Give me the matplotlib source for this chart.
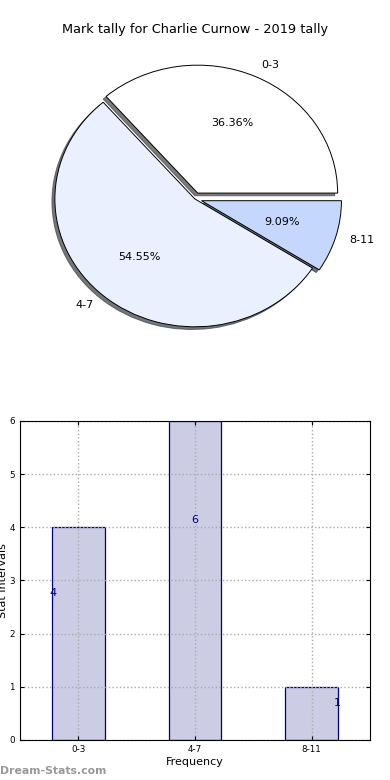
import matplotlib
matplotlib.use('Agg')
import matplotlib.pyplot as plt

# data
categories = ['0-3', '4-7', '8-11']
counts = [4, 6, 1]
pie_colors = ['#FFFFFF', '#EAF0FE', '#C6D7FE']
explode = [0.05, 0.0, 0.05]

fig = plt.figure(figsize=(3.9, 7.8), dpi=100)
fig.suptitle('Mark tally for Charlie Curnow - 2019 tally', fontsize=9.3, y=0.97)

# 1. pie
ax1 = fig.add_axes([0.051, 0.54, 0.897, 0.41])
wedges, texts, autotexts = ax1.pie(counts, labels=categories, colors=pie_colors,
                                   explode=explode, autopct='%1.2f%%',
                                   shadow={'ox': -0.015, 'oy': -0.015, 'alpha': 0.75},
                                   startangle=0, labeldistance=1.1, pctdistance=0.6,
                                   wedgeprops={'edgecolor': 'black', 'linewidth': 0.7},
                                   textprops={'fontsize': 8})
ax1.set_aspect('auto')
ax1.set_xlim(-1.25, 1.25)
ax1.set_ylim(-1.25, 1.25)
ax1.axis('off')

# 2. bars
ax2 = fig.add_axes([0.051, 0.0513, 0.898, 0.4090])
x = list(range(len(categories)))
ax2.bar(x, counts, width=0.45, color='#CCCCE5', edgecolor='#000080', linewidth=0.9)
for i, c in enumerate(counts):
    # value labels sit low and drift sideways like the original
    ax2.text(i + (i - 1) * 0.22, c * 0.69, str(c), color='#000080',
             fontsize=8, ha='center', va='center')
ax2.set_xlim(-0.5, 2.5)
ax2.set_ylim(0, 6)
ax2.set_xticks(x)
ax2.set_xticklabels(categories)
ax2.tick_params(direction='in', top=True, right=True, labelsize=6.3, length=3)
ax2.grid(True, linestyle=':', color='#AAAAAA', linewidth=1)
for sp in ax2.spines.values():
    sp.set_zorder(5)
ax2.set_xlabel('Frequency', fontsize=8, labelpad=2)
ax2.set_ylabel('Stat Intervals', fontsize=8, labelpad=1)

fig.text(0.0, 0.0055, 'Dream-Stats.com', color='#999999', fontsize=7.8,
         fontweight='bold', ha='left', va='bottom')

plt.savefig('out.png', dpi=100)
plt.close()
